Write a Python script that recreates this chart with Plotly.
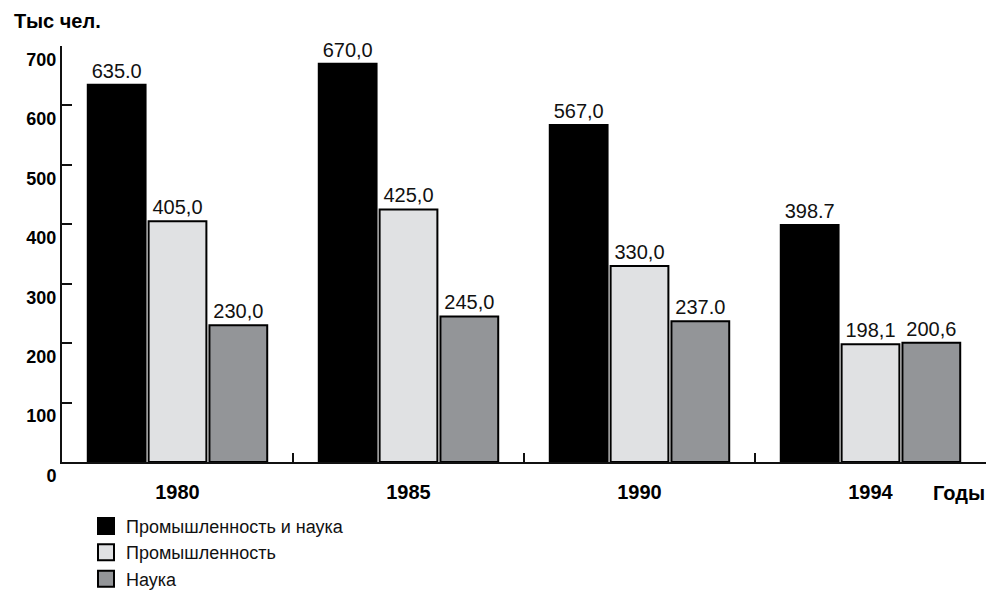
import plotly.graph_objects as go

# Data
years = ["1980", "1985", "1990", "1994"]
total = [635.0, 670.0, 567.0, 398.7]          # Промышленность и наука
industry = [405.0, 425.0, 330.0, 198.1]       # Промышленность
science = [230.0, 245.0, 237.0, 200.6]        # Наука
total_labels = ["635.0", "670,0", "567,0", "398.7"]
industry_labels = ["405,0", "425,0", "330,0", "198,1"]
science_labels = ["230,0", "245,0", "237.0", "200,6"]
y_ticks = [0, 100, 200, 300, 400, 500, 600, 700]

FONT = "Liberation Sans, Arial, sans-serif"

fig = go.Figure()

series = [
    ("Промышленность и наука", total, total_labels, "#000000"),
    ("Промышленность", industry, industry_labels, "#e0e1e3"),
    ("Наука", science, science_labels, "#939598"),
]
for name, vals, labels, color in series:
    fig.add_trace(go.Bar(
        x=years, y=vals, name=name, showlegend=False,
        text=labels, textposition="outside", cliponaxis=False,
        textfont=dict(family=FONT, size=20, color="#111"),
        marker=dict(color=color, line=dict(color="#000", width=2)),
    ))

# legend entries with bigger square symbols
for name, vals, labels, color in series:
    fig.add_trace(go.Scatter(
        x=[None], y=[None], mode="markers", name=name,
        marker=dict(symbol="square", size=17, color=color,
                    line=dict(color="#000", width=2)),
    ))

fig.update_layout(
    width=989, height=592,
    margin=dict(l=62, r=3, t=46, b=130, autoexpand=False),
    plot_bgcolor="white", paper_bgcolor="white",
    barmode="group", bargap=0.21, bargroupgap=0.05,
    font=dict(family=FONT, color="#000"),
    showlegend=True,
    legend=dict(x=0.026, y=-0.11, xanchor="left", yanchor="top",
                font=dict(family=FONT, size=18, color="#111"),
                itemsizing="trace", tracegroupgap=0,
                bgcolor="rgba(0,0,0,0)"),
)

fig.update_xaxes(
    showline=True, linecolor="#111", linewidth=2,
    ticks="inside", tickson="boundaries", ticklen=9, tickwidth=2, tickcolor="#111",
    tickfont=dict(family=FONT, size=20, weight="bold"),
    ticklabelstandoff=11, automargin=False,
    showgrid=False, zeroline=False,
)
# note: ticklabelstandoff on this axis hid the inside ticks, so a transparent
# suffix pushes the labels left instead
fig.update_yaxes(
    range=[0, 700], tickvals=y_ticks,
    showline=True, linecolor="#111", linewidth=2,
    ticks="inside", ticklen=10, tickwidth=2, tickcolor="#111",
    tickfont=dict(family=FONT, size=18, weight="bold"),
    ticksuffix='<span style="color:rgba(0,0,0,0)">0</span>',
    ticklabelposition="outside bottom", automargin=False,
    showgrid=False, zeroline=False,
)

fig.add_annotation(text="Тыс чел.", xref="paper", yref="paper",
                   x=-0.054, y=1.06, xanchor="left", yanchor="middle",
                   showarrow=False, font=dict(family=FONT, size=20, weight="bold"))
fig.add_annotation(text="Годы", xref="paper", yref="paper",
                   x=0.94, y=-0.074, xanchor="left", yanchor="middle",
                   showarrow=False, font=dict(family=FONT, size=20, weight="bold"))

# drop the default 8px page margin so the figure sits at the window corner
fig.write_html("out.html", config={"displayModeBar": False},
               post_script="document.body.style.margin='0';")
